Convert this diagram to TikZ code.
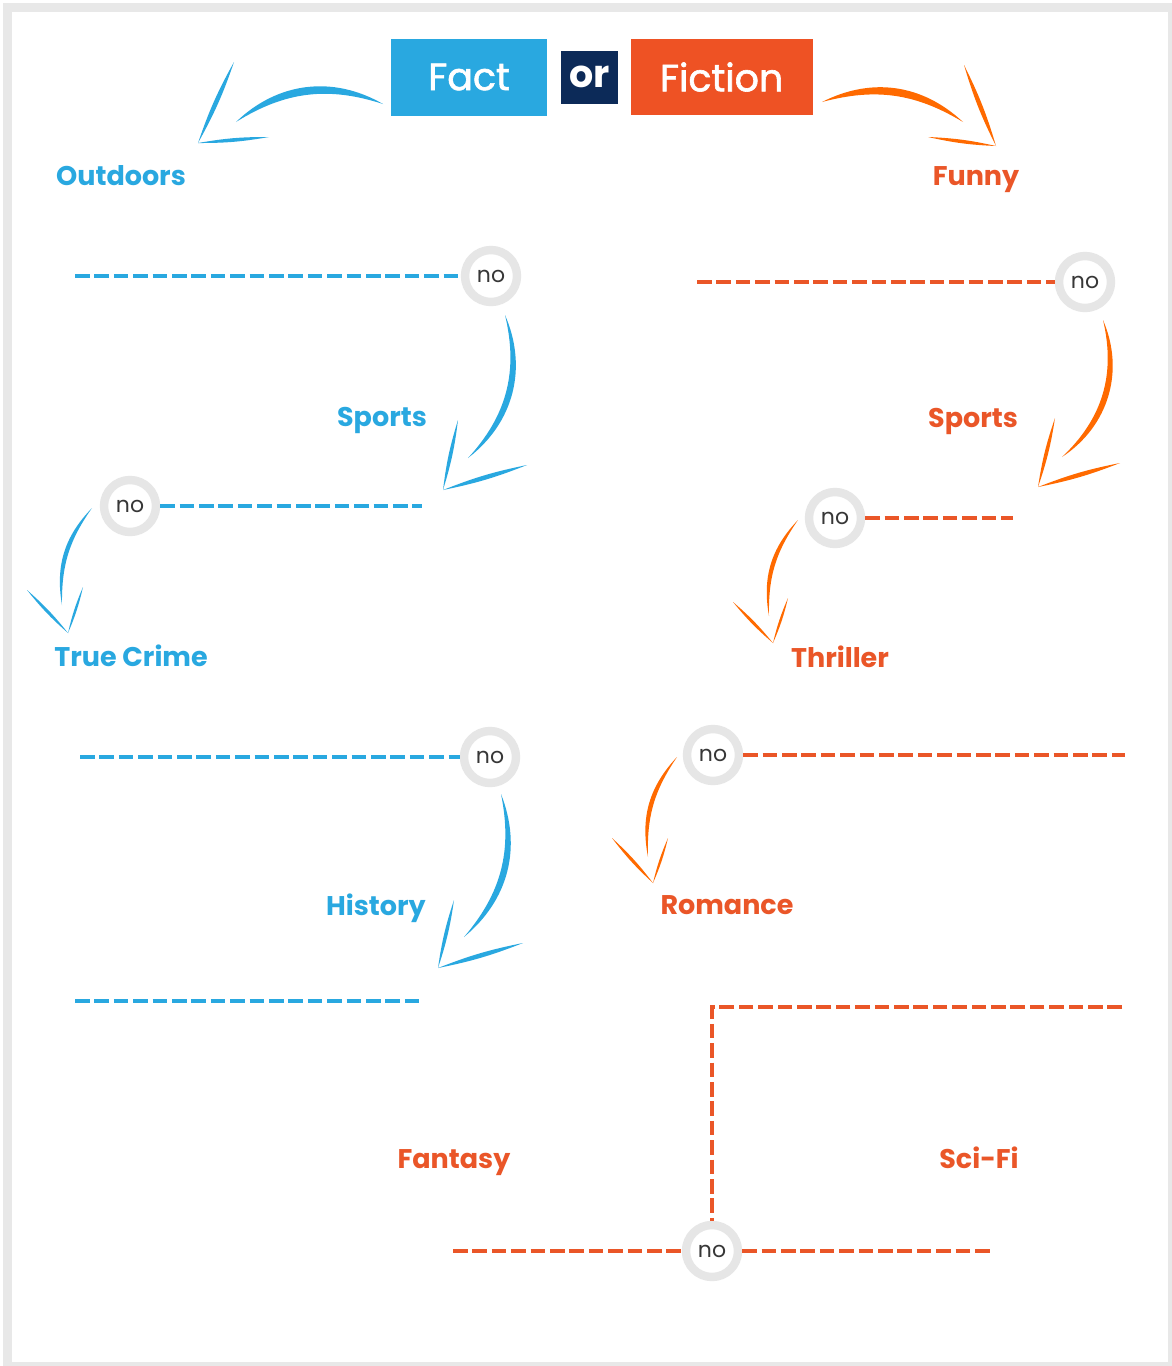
\documentclass[tikz,border=0pt]{standalone}
\usepackage{fontspec}
\setmainfont{Poppins}
\newfontfamily\popmed[FakeBold=1.6]{Poppins}
\usepackage{tikz}
\usetikzlibrary{positioning}
\definecolor{factblue}{RGB}{41,168,224}
\definecolor{fictionred}{RGB}{238,82,36}
\definecolor{ornavy}{RGB}{12,42,88}
\definecolor{arroworange}{RGB}{255,106,0}
\definecolor{textorange}{RGB}{234,86,40}
\definecolor{ringgrey}{RGB}{230,230,230}
\definecolor{framegrey}{RGB}{232,232,232}
\definecolor{nogrey}{RGB}{55,55,55}

% hand drawn arrow: colour, start, end, bend, back bend, tip, head ends
\newcommand{\handarrow}[8]{%
  \fill[#1] (#2) to[bend left=#4] (#3) to[bend right=#5] (#2) -- cycle;
  \fill[#1] (#6) to[bend left=5] (#7) to[bend left=5] (#6) -- cycle;
  \fill[#1] (#6) to[bend left=5] (#8) to[bend left=5] (#6) -- cycle;}

\begin{document}
\begin{tikzpicture}[x=0.5pt,y=-0.5pt,
  hdr/.style={inner sep=0pt,text=white,font=\popmed\fontsize{19}{22}\selectfont},
  genre/.style={anchor=base,inner sep=0pt,font=\bfseries\fontsize{13.5}{16}\selectfont},
  nocirc/.style={circle,draw=ringgrey,line width=4.2pt,fill=white,minimum size=26pt,inner sep=0pt,text=nogrey,font=\fontsize{11}{13}\selectfont},
  dashline/.style={line width=2.3pt,dash pattern=on 7.3pt off 2.4pt}]
  \useasboundingbox (0,0) rectangle (1172,1366);
  \fill[framegrey] (3,3) rectangle (1172,1366);
  \fill[white] (12,12) rectangle (1168,1362);

  \node[hdr,fill=factblue,minimum width=78pt,minimum height=38.5pt] (fact) at (469,77) {Fact};
  \node[hdr,fill=ornavy,font=\bfseries\fontsize{19}{22}\selectfont,minimum width=28.5pt,minimum height=26.5pt,right=6.5pt of fact] (orbox) {or};
  \node[hdr,fill=fictionred,minimum width=91pt,minimum height=38pt,right=6pt of orbox] (fiction) {Fiction};

  \node[genre,text=factblue] (outdoors) at (121,185) {Outdoors};
  \node[genre,text=textorange] (funny) at (976,185) {Funny};
  \node[genre,text=factblue] (sportsL) at (382,426) {Sports};
  \node[genre,text=textorange] (sportsR) at (973,427) {Sports};
  \node[genre,text=factblue] (crime) at (131,666) {True Crime};
  \node[genre,text=textorange] (thriller) at (840,667) {Thriller};
  \node[genre,text=factblue] (history) at (376,915) {History};
  \node[genre,text=textorange] (romance) at (727,914) {Romance};
  \node[genre,text=textorange] (fantasy) at (454,1168) {Fantasy};
  \node[genre,text=textorange] (scifi) at (979,1168) {Sci-Fi};

  \node[nocirc] (no1) at (491,276) {no};
  \node[nocirc] (no2) at (130,506) {no};
  \node[nocirc] (no3) at (490,757) {no};
  \node[nocirc] (no4) at (1085,282) {no};
  \node[nocirc] (no5) at (835,518) {no};
  \node[nocirc] (no6) at (713,755) {no};
  \node[nocirc] (no7) at (712,1251) {no};

  \coordinate (l1) at (75,276);
  \coordinate (l2) at (422,506);
  \coordinate (l3) at (80,757);
  \coordinate (l4a) at (75,1001);
  \coordinate (l4b) at (420,1001);
  \coordinate (r1) at (697,282);
  \coordinate (r2) at (1013,518);
  \coordinate (r3) at (1125,755);
  \coordinate (r4) at (1122,1007);
  \coordinate (r5a) at (453,1251);
  \coordinate (r5b) at (992,1251);

  \draw[dashline,factblue] (l1) -- (no1);
  \draw[dashline,factblue] (no2) -- (l2);
  \draw[dashline,factblue] (l3) -- (no3);
  \draw[dashline,factblue] (l4a) -- (l4b);
  \draw[dashline,textorange] (r1) -- (no4);
  \draw[dashline,textorange] (no5) -- (r2);
  \draw[dashline,textorange] (no6) -- (r3);
  \draw[dashline,textorange] (r4) -| (no7);
  \draw[dashline,textorange] (r5a) -- (no7);
  \draw[dashline,textorange] (no7) -- (r5b);

  \handarrow{factblue}{383,104}{236,122}{-37}{-25}{198,143}{234,62}{269,137}
  \handarrow{arroworange}{822,102}{963,122}{35}{23}{996,146}{964,65}{928,137}
  \handarrow{factblue}{505,315}{468,458}{38}{28}{443,490}{458,420}{527,465}
  \handarrow{factblue}{92,508}{62,605}{-27}{-18}{68,633}{27,590}{83,587}
  \handarrow{factblue}{501,794}{464,937}{36}{26}{438,968}{454,900}{523,943}
  \handarrow{arroworange}{1103,320}{1062,457}{40}{30}{1038,487}{1055,418}{1120,463}
  \handarrow{arroworange}{798,520}{769,616}{-27}{-18}{773,643}{733,602}{788,598}
  \handarrow{arroworange}{677,757}{648,857}{-27}{-18}{653,883}{612,838}{668,838}
\end{tikzpicture}
\end{document}
